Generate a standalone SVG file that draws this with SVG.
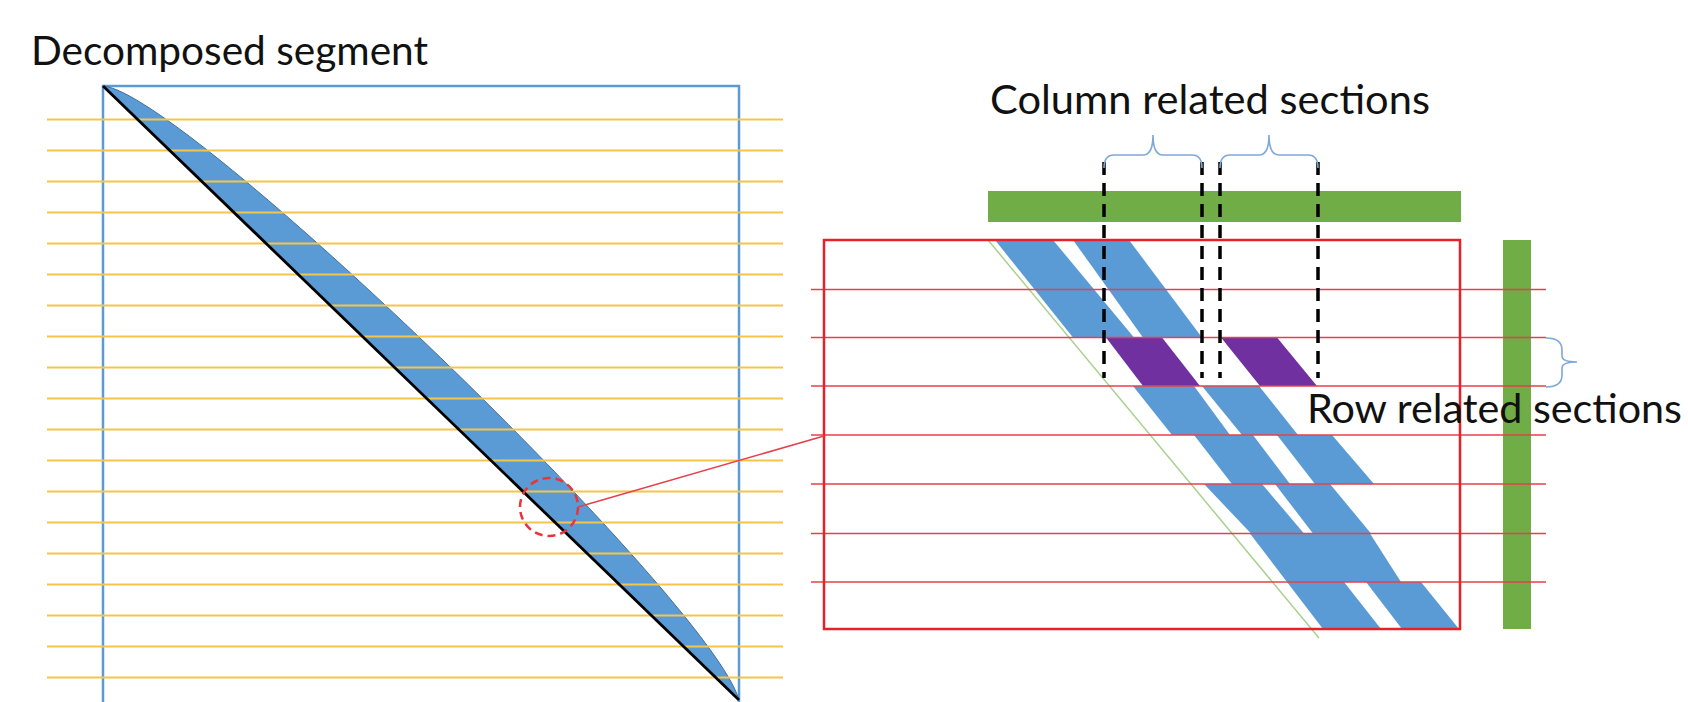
<svg xmlns="http://www.w3.org/2000/svg" width="1688" height="702" viewBox="0 0 1688 702">
  <style>
    .label { font-family: Lato, "Liberation Sans", sans-serif; font-size: 40px; fill: #111; }
    .grid-y { stroke: #f4c54a; stroke-width: 2; }
    .grid-r { stroke: #e4414b; stroke-width: 1.5; }
    .band { fill: #5b9bd5; }
    .sel { fill: #7030a0; }
    .col-cut { stroke: #000; stroke-width: 3.5; stroke-dasharray: 13 8; fill: none; }
    .brace { stroke: #7fa8d8; stroke-width: 1.6; fill: none; }
    .green { fill: #70ad47; }
  </style>

  <rect width="1688" height="702" fill="#fff"/>

  <!-- Left: full segment -->
  <g id="segment">
    <rect x="103" y="86" width="636" height="640" fill="none" stroke="#5b9bd5" stroke-width="2.5"/>
    <path d="M103,86 C183.6,91.6 711.5,601.2 739,700 Z" fill="#5b9bd5" stroke="#41719c" stroke-width="1"/>
    <g id="segment-rows">
      <line class="grid-y" x1="47" y1="119.5" x2="783" y2="119.5"/>
      <line class="grid-y" x1="47" y1="150.5" x2="783" y2="150.5"/>
      <line class="grid-y" x1="47" y1="181.5" x2="783" y2="181.5"/>
      <line class="grid-y" x1="47" y1="212.5" x2="783" y2="212.5"/>
      <line class="grid-y" x1="47" y1="243.5" x2="783" y2="243.5"/>
      <line class="grid-y" x1="47" y1="274.5" x2="783" y2="274.5"/>
      <line class="grid-y" x1="47" y1="305.5" x2="783" y2="305.5"/>
      <line class="grid-y" x1="47" y1="336.5" x2="783" y2="336.5"/>
      <line class="grid-y" x1="47" y1="367.5" x2="783" y2="367.5"/>
      <line class="grid-y" x1="47" y1="398.5" x2="783" y2="398.5"/>
      <line class="grid-y" x1="47" y1="429.5" x2="783" y2="429.5"/>
      <line class="grid-y" x1="47" y1="460.5" x2="783" y2="460.5"/>
      <line class="grid-y" x1="47" y1="491.5" x2="783" y2="491.5"/>
      <line class="grid-y" x1="47" y1="522.5" x2="783" y2="522.5"/>
      <line class="grid-y" x1="47" y1="553.5" x2="783" y2="553.5"/>
      <line class="grid-y" x1="47" y1="584.5" x2="783" y2="584.5"/>
      <line class="grid-y" x1="47" y1="615.5" x2="783" y2="615.5"/>
      <line class="grid-y" x1="47" y1="646.5" x2="783" y2="646.5"/>
      <line class="grid-y" x1="47" y1="677.5" x2="783" y2="677.5"/>
    </g>
    <line x1="103" y1="86" x2="739" y2="700" stroke="#000" stroke-width="2.8"/>
    <ellipse id="focus" cx="549" cy="507" rx="29" ry="29" fill="none" stroke="#e8353b" stroke-width="2.5" stroke-dasharray="8 5"/>
  </g>

  <!-- Right: zoomed block -->
  <g id="column-bar">
    <rect class="green" x="988" y="191" width="473" height="31"/>
  </g>
  <g id="row-bar">
    <rect class="green" x="1503" y="240" width="28" height="389"/>
  </g>

  <g id="block">
    <line x1="988" y1="240" x2="1319" y2="638" stroke="#a9d18e" stroke-width="1.5"/>
    <!-- rows 0-1 -->
    <polygon class="band" points="995,240 1053,240 1134,337.5 1073,337.5"/>
    <polygon class="band" points="1073,240 1129,240 1202,337.5 1143,337.5"/>
    <!-- row 2 (selected) -->
    <polygon class="sel" points="1106,337.5 1162,337.5 1200,386 1143,386"/>
    <polygon class="sel" points="1221,337.5 1277,337.5 1317,386 1260,386"/>
    <!-- row 3 -->
    <polygon class="band" points="1133,386 1194,386 1230,435 1172,435"/>
    <polygon class="band" points="1202,386 1259,386 1298,435 1242,435"/>
    <!-- row 4 -->
    <polygon class="band" points="1194,435 1253,435 1290,484 1232,484"/>
    <polygon class="band" points="1277,435 1332,435 1374,484 1315,484"/>
    <!-- row 5 -->
    <polygon class="band" points="1204,484 1262,484 1304,533.5 1251,533.5"/>
    <polygon class="band" points="1275,484 1330,484 1371,533.5 1313,533.5"/>
    <!-- row 6 -->
    <polygon class="band" points="1250,533.5 1370,533.5 1401,582 1287,582"/>
    <!-- row 7 -->
    <polygon class="band" points="1287,582 1344,582 1381,629 1323,629"/>
    <polygon class="band" points="1366,582 1421,582 1459,629 1402,629"/>

    <g id="block-rows">
      <line class="grid-r" x1="811" y1="289.5" x2="1546" y2="289.5"/>
      <line class="grid-r" x1="811" y1="337.5" x2="1546" y2="337.5"/>
      <line class="grid-r" x1="811" y1="386" x2="1546" y2="386"/>
      <line class="grid-r" x1="811" y1="435" x2="1546" y2="435"/>
      <line class="grid-r" x1="811" y1="484" x2="1546" y2="484"/>
      <line class="grid-r" x1="811" y1="533.5" x2="1546" y2="533.5"/>
      <line class="grid-r" x1="811" y1="582" x2="1546" y2="582"/>
    </g>
    <rect x="824" y="240" width="636" height="389" fill="none" stroke="#e8202a" stroke-width="2.5"/>
  </g>

  <g id="column-cuts">
    <line class="col-cut" x1="1104" y1="162" x2="1104" y2="378"/>
    <line class="col-cut" x1="1202" y1="162" x2="1202" y2="378"/>
    <line class="col-cut" x1="1220" y1="162" x2="1220" y2="378"/>
    <line class="col-cut" x1="1318" y1="162" x2="1318" y2="378"/>
  </g>

  <g id="braces">
    <path class="brace" d="M1104,168 Q1104,155 1114,155 L1143,155 Q1153,155 1153,135 Q1153,155 1163,155 L1192,155 Q1202,155 1202,168"/>
    <path class="brace" d="M1220,168 Q1220,155 1230,155 L1259,155 Q1269,155 1269,135 Q1269,155 1279,155 L1308,155 Q1318,155 1318,168"/>
    <path class="brace" d="M1546,338 Q1562,338 1562,350 L1562,356 Q1562,362 1577,362 Q1562,362 1562,368 L1562,375 Q1562,387 1546,387"/>
  </g>

  <g id="connectors">
    <line x1="578" y1="507" x2="824" y2="436" stroke="#e4414b" stroke-width="1.5"/>
  </g>

  <g id="labels">
    <text class="label" x="31" y="65" textLength="397" lengthAdjust="spacingAndGlyphs">Decomposed segment</text>
    <text class="label" x="990" y="114" textLength="440" lengthAdjust="spacingAndGlyphs">Column related sections</text>
    <text class="label" x="1307" y="423" textLength="375" lengthAdjust="spacingAndGlyphs">Row related sections</text>
  </g>
</svg>
